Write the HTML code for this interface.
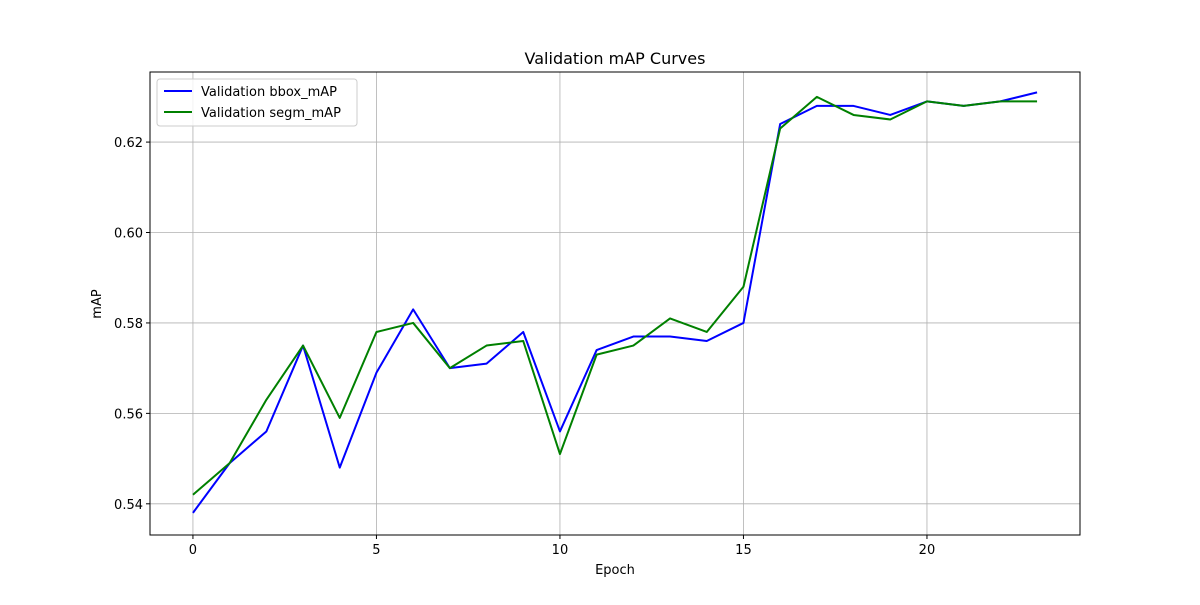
<!DOCTYPE html>
<html><head><meta charset="utf-8"><style>
body{margin:0;background:#fff;}
svg text{font-family:"DejaVu Sans","Liberation Sans",sans-serif;fill:#000;}
</style></head><body>
<svg id="chart" width="1200" height="600" xmlns="http://www.w3.org/2000/svg">
<rect width="1200" height="600" fill="#fff"/>
<g id="grid"></g>
<g id="ticks"></g>
<g id="series"></g>
<rect x="150" y="72" width="930" height="463" fill="none" stroke="#000" stroke-width="1"/>
<text x="615" y="64" text-anchor="middle" font-size="16">Validation mAP Curves</text>
<text x="615" y="574" text-anchor="middle" font-size="13">Epoch</text>
<text x="101" y="304" text-anchor="middle" font-size="13" transform="rotate(-90 101 304)">mAP</text>
<g>
<rect x="157" y="79" width="200" height="47" rx="3" fill="#fff" fill-opacity="0.8" stroke="#ccc"/>
<g><line x1="164" y1="91" x2="192" y2="91" stroke="#0000ff" stroke-width="2"/><text x="201" y="96" font-size="13">Validation bbox_mAP</text></g>
<g><line x1="164" y1="112" x2="192" y2="112" stroke="#008000" stroke-width="2"/><text x="201" y="117" font-size="13">Validation segm_mAP</text></g>
</g>
</svg>
<script>
const epochs=[0,1,2,3,4,5,6,7,8,9,10,11,12,13,14,15,16,17,18,19,20,21,22,23];
const bboxMAP=[0.538,0.549,0.556,0.575,0.548,0.569,0.583,0.570,0.571,0.578,0.556,0.574,0.577,0.577,0.576,0.580,0.624,0.628,0.628,0.626,0.629,0.628,0.629,0.631];
const segmMAP=[0.542,0.549,0.563,0.575,0.559,0.578,0.580,0.570,0.575,0.576,0.551,0.573,0.575,0.581,0.578,0.588,0.623,0.630,0.626,0.625,0.629,0.628,0.629,0.629];
const xTicks=[0,5,10,15,20];
const yTicks=[0.54,0.56,0.58,0.60,0.62];
const NS="http://www.w3.org/2000/svg";
const X0=150,X1=1080,Y0=535,Y1=72;
const xMin=-1.17,xMax=24.17,yMin=0.5331,yMax=0.6355;
const sx=v=>X0+(v-xMin)/(xMax-xMin)*(X1-X0);
const sy=v=>Y0-(v-yMin)/(yMax-yMin)*(Y0-Y1);
function mk(t,a,p){const e=document.createElementNS(NS,t);for(const k in a)e.setAttribute(k,a[k]);p.appendChild(e);return e;}
const grid=document.getElementById('grid'),ticks=document.getElementById('ticks'),ser=document.getElementById('series');
xTicks.forEach(v=>{const x=sx(v);
 const g=mk('line',{x1:x,x2:x,y1:Y1,y2:Y0,stroke:'#b0b0b0','stroke-width':0.8},grid);
 
 
 mk('line',{x1:x,x2:x,y1:Y0,y2:Y0+4,stroke:'#000'},ticks);
 const t=mk('text',{x:x,y:Y0+19,'text-anchor':'middle','font-size':13},ticks);t.textContent=v;
 
 
});
yTicks.forEach(v=>{const y=sy(v);
 const g=mk('line',{x1:X0,x2:X1,y1:y,y2:y,stroke:'#b0b0b0','stroke-width':0.8},grid);
 
 
 mk('line',{x1:X0-4,x2:X0,y1:y,y2:y,stroke:'#000'},ticks);
 const t=mk('text',{x:X0-7,y:y+5,'text-anchor':'end','font-size':13},ticks);t.textContent=v.toFixed(2);
 
 
});
function line(vals,color,name){
 const pts=epochs.map((e,i)=>sx(e)+','+sy(vals[i])).join(' ');
 const p=mk('polyline',{points:pts,fill:'none',stroke:color,'stroke-width':2,'stroke-linejoin':'round'},ser);
 
 
}
line(bboxMAP,'#0000ff','bbox-map-line');
line(segmMAP,'#008000','segm-map-line');
</script>
</body></html>
